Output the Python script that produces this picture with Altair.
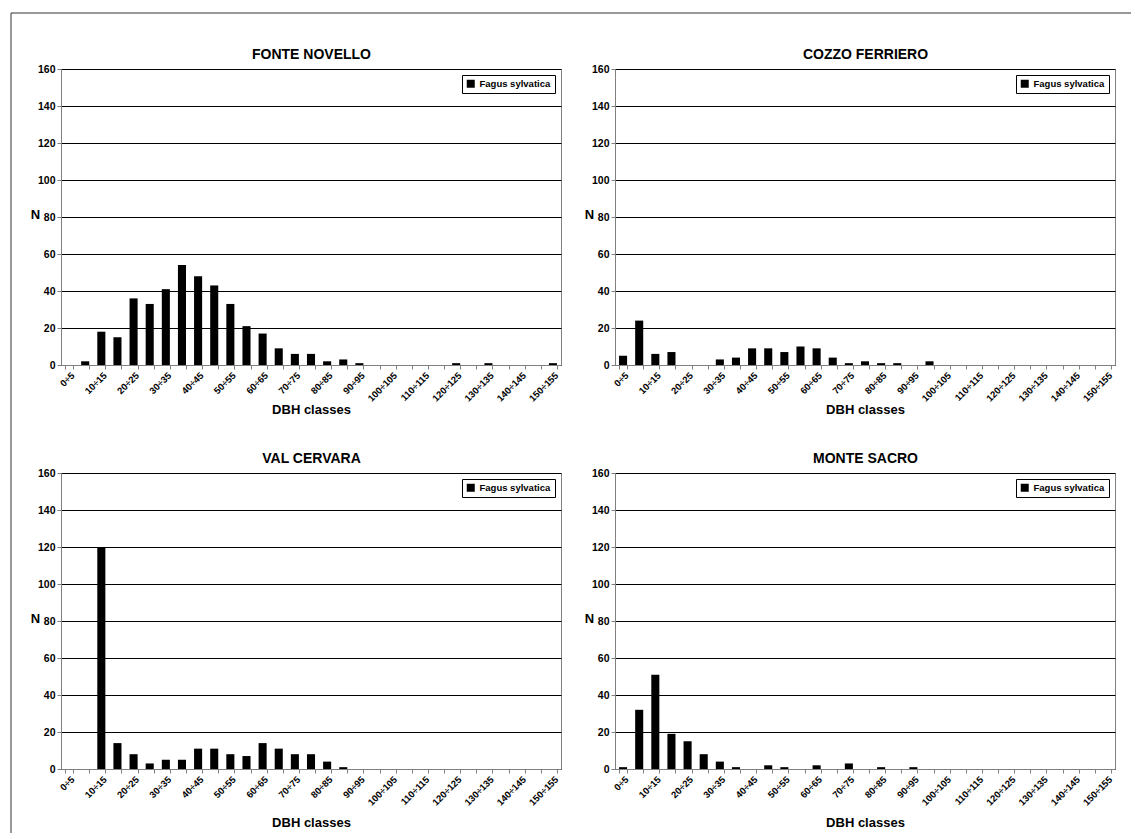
import json

import altair as alt
import pandas as pd

# DBH classes (cm)
classes = [
    "0÷5", "5÷10", "10÷15", "15÷20", "20÷25", "25÷30", "30÷35", "35÷40",
    "40÷45", "45÷50", "50÷55", "55÷60", "60÷65", "65÷70", "70÷75", "75÷80",
    "80÷85", "85÷90", "90÷95", "95÷100", "100÷105", "105÷110", "110÷115",
    "115÷120", "120÷125", "125÷130", "130÷135", "135÷140", "140÷145",
    "145÷150", "150÷155",
]

# Number of trees per class at each site
fonte_novello = [0, 2, 18, 15, 36, 33, 41, 54, 48, 43, 33, 21, 17, 9, 6, 6,
                 2, 3, 1, 0, 0, 0, 0, 0, 1, 0, 1, 0, 0, 0, 1]
cozzo_ferriero = [5, 24, 6, 7, 0, 0, 3, 4, 9, 9, 7, 10, 9, 4, 1, 2,
                  1, 1, 0, 2, 0, 0, 0, 0, 0, 0, 0, 0, 0, 0, 0]
val_cervara = [0, 0, 120, 14, 8, 3, 5, 5, 11, 11, 8, 7, 14, 11, 8, 8,
               4, 1, 0, 0, 0, 0, 0, 0, 0, 0, 0, 0, 0, 0, 0]
monte_sacro = [1, 32, 51, 19, 15, 8, 4, 1, 0, 2, 1, 0, 2, 0, 3, 0,
               1, 0, 1, 0, 0, 0, 0, 0, 0, 0, 0, 0, 0, 0, 0]

site_names = ["FONTE NOVELLO", "COZZO FERRIERO", "VAL CERVARA", "MONTE SACRO"]
site_counts = [fonte_novello, cozzo_ferriero, val_cervara, monte_sacro]
species = "Fagus sylvatica"

FONT = "Liberation Sans"
W, H = 500, 296

# only every other class gets a visible label
shown = json.dumps(classes[::2], ensure_ascii=False)
label_expr = f"indexof({shown}, datum.value) >= 0 ? datum.label : ''"


def panel(name, counts, row, with_frame=False):
    df = pd.DataFrame({"classe": classes, "N": counts, "specie": species})
    x_scale = alt.Scale(paddingInner=0.5, paddingOuter=0.25)
    bars = alt.Chart(df).mark_bar(color="black").encode(
        x=alt.X(
            "classe:N",
            sort=classes,
            scale=x_scale,
            axis=alt.Axis(
                title="DBH classes",
                titleFontSize=13,
                titleBaseline="middle",
                titleY=44 if row == 0 else 53,
                labelAngle=315,
                labelExpr=label_expr,
                labelOverlap=False,
                labelFontSize=9.5,
                labelPadding=1,
                tickBand="extent",
                tickSize=4,
                grid=False,
            ),
        ),
        y=alt.Y(
            "N:Q",
            scale=alt.Scale(domain=[0, 160], nice=False),
            axis=alt.Axis(
                values=list(range(0, 161, 20)),
                title="N",
                titleAngle=0,
                titleFontSize=13,
                titleX=-26,
                titleY=145,
                titleAlign="center",
                titleBaseline="middle",
                labelFontSize=10.5,
                labelPadding=2,
                labelOverlap=False,
                tickSize=4,
                grid=True,
                gridColor="black",
                gridWidth=1,
            ),
        ),
        color=alt.Color(
            "specie:N",
            title=None,
            scale=alt.Scale(range=["black"]),
            legend=alt.Legend(
                orient="top-right",
                offset=6,
                padding=4,
                strokeColor="black",
                fillColor="white",
                symbolType="square",
                symbolSize=64,
                symbolStrokeWidth=0,
                labelFontSize=9.5,
                labelFontWeight="bold",
                labelFont=FONT,
                labelColor="black",
            ),
        ),
    )
    # site name carried by an unlabeled top axis, so it sits relative to the plot area
    heading = alt.Chart(df).mark_bar(opacity=0).encode(
        x=alt.X(
            "classe:N",
            sort=classes,
            scale=x_scale,
            axis=alt.Axis(
                orient="top",
                title=name,
                titleFontSize=14,
                titlePadding=8,
                labels=False,
                ticks=False,
                domain=False,
                grid=False,
            ),
        ),
    )
    layers = [bars, heading]
    if with_frame:
        one = pd.DataFrame({"k": [0]})
        top_line = alt.Chart(one).mark_rule(color="#333333", strokeWidth=1).encode(
            x=alt.value(-50), x2=alt.value(1070), y=alt.value(-56)
        )
        left_line = alt.Chart(one).mark_rule(color="#333333", strokeWidth=1).encode(
            x=alt.value(-50), y=alt.value(-56), y2=alt.value(764)
        )
        layers = [top_line, left_line] + layers
    return (
        alt.layer(*layers)
        .resolve_axis(x="independent")
        .properties(width=W, height=H)
    )


panels = [
    panel(n, c, row=i // 2, with_frame=(i == 0))
    for i, (n, c) in enumerate(zip(site_names, site_counts))
]

chart = (
    alt.concat(*panels, columns=2, spacing={"row": 108, "column": 54}, bounds="flush")
    .resolve_scale(color="independent")
    .resolve_legend(color="independent")
    .properties(padding={"left": 10, "top": 12, "right": 0, "bottom": 0})
    .configure(font=FONT)
    .configure_view(stroke="#808080", strokeWidth=1)
    .configure_axis(
        labelFont=FONT,
        labelFontWeight="bold",
        labelColor="black",
        titleFont=FONT,
        titleFontWeight="bold",
        titleColor="black",
        domainColor="#808080",
        tickColor="#808080",
    )
)

chart.save("out.html", embed_options={"renderer": "svg", "actions": False})
